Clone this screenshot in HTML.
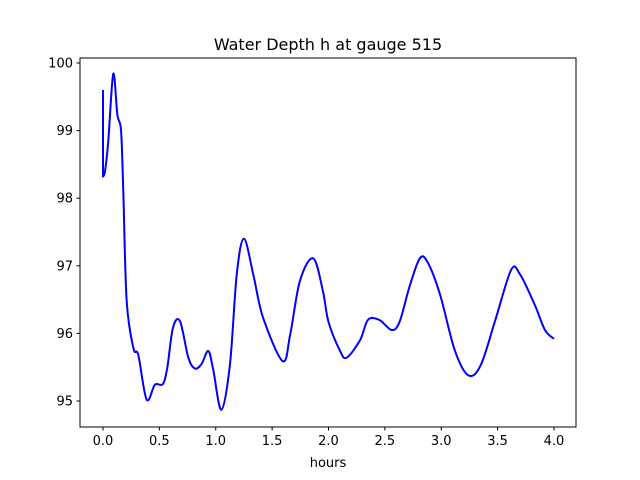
<!DOCTYPE html>
<html><head><meta charset="utf-8"><style>
body{margin:0;background:#fff}
svg{display:block;font-family:"DejaVu Sans","Liberation Sans",sans-serif}
</style></head><body>
<svg id="chart" width="640" height="480">
<rect width="640" height="480" fill="#fff"/>
<text x="328" y="50" font-size="16" text-anchor="middle">Water Depth h at gauge 515</text>
<text x="328" y="467" font-size="13" text-anchor="middle">hours</text>
<g id="ticks"></g>
<path id="series" fill="none" stroke="#0000ff" stroke-width="2" stroke-linejoin="round"/>
<rect x="80" y="58" width="496" height="369" fill="none" stroke="#000" stroke-width="1"/>
</svg>
<script>
const hours=[0,0,0.018,0.047,0.091,0.127,0.16,0.18,0.21,0.27,0.313,0.387,0.46,0.53,0.57,0.62,0.683,0.757,0.816,0.875,0.934,0.978,1.05,1.126,1.186,1.25,1.333,1.42,1.594,1.66,1.747,1.865,1.95,2.0,2.10,2.16,2.28,2.35,2.45,2.56,2.63,2.72,2.81,2.88,2.99,3.12,3.24,3.35,3.48,3.62,3.70,3.83,3.92,4.0];
const depth=[99.60,98.32,98.40,98.85,99.84,99.24,99.0,98.1,96.48,95.78,95.68,95.02,95.24,95.25,95.49,96.08,96.18,95.64,95.48,95.55,95.74,95.46,94.87,95.54,96.87,97.40,96.87,96.23,95.59,95.98,96.78,97.11,96.63,96.17,95.75,95.64,95.9,96.2,96.2,96.05,96.17,96.7,97.11,97.05,96.57,95.75,95.38,95.53,96.2,96.94,96.87,96.42,96.05,95.92];
const xTicks=[0,0.5,1.0,1.5,2.0,2.5,3.0,3.5,4.0];
const yTicks=[95,96,97,98,99,100];
const X=t=>103+112.75*t, Y=h=>401-67.6*(h-95);
const NS="http://www.w3.org/2000/svg", g=document.getElementById('ticks');
function mk(tag,attrs){const e=document.createElementNS(NS,tag);for(const k in attrs)e.setAttribute(k,attrs[k]);g.appendChild(e);return e;}
xTicks.forEach(t=>{
  const l=mk('line',{x1:X(t),x2:X(t),y1:427,y2:430.5,stroke:'#000'});
  
  
  const s=mk('text',{x:X(t),y:445,'font-size':13,'text-anchor':'middle'});
  s.textContent=t.toFixed(1);
  
  
});
yTicks.forEach(h=>{
  const l=mk('line',{x1:76.5,x2:80,y1:Y(h),y2:Y(h),stroke:'#000'});
  
  
  const s=mk('text',{x:73,y:Y(h)+4.5,'font-size':13,'text-anchor':'end'});
  s.textContent=String(h);
  
  
});
// Catmull-Rom smoothing through data points
const P=hours.map((t,i)=>[X(t),Y(depth[i])]);
let d='M'+P[0][0]+','+P[0][1]+' L'+P[1][0]+','+P[1][1];
for(let i=1;i<P.length-1;i++){
  const p0=P[Math.max(i-1,1)],p1=P[i],p2=P[i+1],p3=P[Math.min(i+2,P.length-1)];
  const c1=[p1[0]+(p2[0]-p0[0])/6,p1[1]+(p2[1]-p0[1])/6];
  const c2=[p2[0]-(p3[0]-p1[0])/6,p2[1]-(p3[1]-p1[1])/6];
  d+=' C'+c1+' '+c2+' '+p2;
}
document.getElementById('series').setAttribute('d',d);
</script>
</body></html>
